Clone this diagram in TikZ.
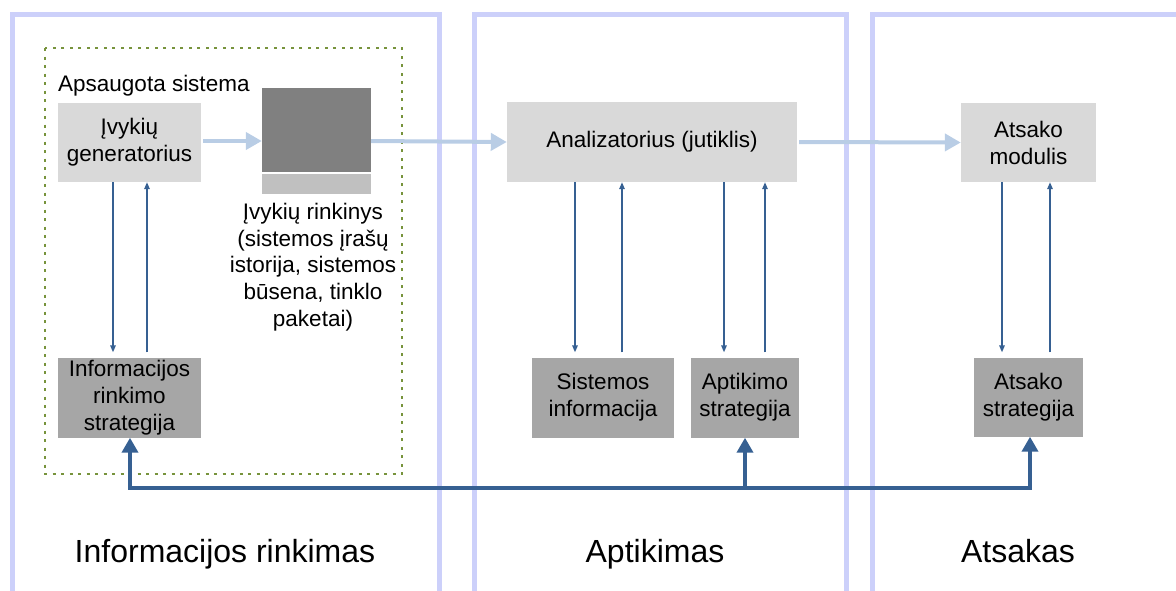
\documentclass[tikz,border=0pt]{standalone}
\usepackage{fontspec}
\setmainfont{Liberation Sans}
\usetikzlibrary{arrows.meta}

\definecolor{panelc}{RGB}{204,208,250}
\definecolor{boxlight}{RGB}{217,217,217}
\definecolor{boxmid}{RGB}{166,166,166}
\definecolor{boxdark}{RGB}{128,128,128}
\definecolor{boxstrip}{RGB}{192,192,192}
\definecolor{flowc}{RGB}{185,205,229}
\definecolor{linkc}{RGB}{54,96,146}
\definecolor{dotc}{RGB}{119,147,60}

\tikzset{
  panel/.style={draw=panelc, line width=5pt},
  sysframe/.style={draw=dotc, line width=2.2pt, dash pattern=on 3pt off 5.5pt},
  box/.style={inner sep=0pt, align=center, font=\fontsize{22.5}{27}\selectfont},
  lightbox/.style={box, fill=boxlight},
  midbox/.style={box, fill=boxmid},
  txt/.style={inner sep=0pt, align=center, font=\fontsize{22.5}{26.7}\selectfont},
  title/.style={inner sep=0pt, font=\fontsize{32}{38}\selectfont},
  flowarr/.style={draw=flowc, line width=4pt, -{Triangle[length=16pt,width=17pt]}},
  thinarr/.style={draw=linkc, line width=1.5pt, -{Triangle[length=7pt,width=5.5pt]}},
  busline/.style={draw=linkc, line width=4pt,
    {Triangle[length=15pt,width=16pt]}-{Triangle[length=15pt,width=16pt]}},
  busarr/.style={draw=linkc, line width=4pt, -{Triangle[length=15pt,width=16pt]}},
}

\begin{document}
\begin{tikzpicture}[x=1pt, y=-1pt]
\useasboundingbox (0,0) rectangle (1176,590);

% the three stage frames, open at the bottom
\begin{scope}
  \clip (0,0) rectangle (1176,590);
  \draw[panel] (12.5,600) -- (12.5,14.5) -- (439,14.5) -- (439,600);
  \draw[panel] (474,600) -- (474,14.5) -- (846.5,14.5) -- (846.5,600);
  \draw[panel] (872,600) -- (872,14.5) -- (1200,14.5);
\end{scope}

% protected system frame
\draw[sysframe] (45,48) rectangle (402,474);
\node[txt, anchor=base west] (sys) at (58,91) {Apsaugota sistema};

% boxes
\node[lightbox, minimum width=143pt, minimum height=79pt] (gen) at (129.5,142.5) {Įvykių\\generatorius};
\node[box, fill=boxdark, minimum width=109pt, minimum height=84pt] (set) at (316.5,130) {};
\node[box, fill=boxstrip, minimum width=109pt, minimum height=20pt] (strip) at (316.5,184) {};
\node[txt, anchor=north] (setlbl) at (313,203) {Įvykių rinkinys\\(sistemos įrašų\\istorija, sistemos\\būsena, tinklo\\paketai)};
\node[lightbox, minimum width=290pt, minimum height=80pt] (an) at (652,142) {Analizatorius (jutiklis)};
\node[lightbox, minimum width=135pt, minimum height=79pt] (am) at (1028.5,142.5) {Atsako\\modulis};

\node[midbox, minimum width=143pt, minimum height=80pt] (irs) at (129.5,397.5) {Informacijos\\rinkimo\\strategija};
\node[midbox, minimum width=142pt, minimum height=80pt] (si) at (603,397.5) {Sistemos\\informacija};
\node[midbox, minimum width=108pt, minimum height=80pt] (aps) at (745,397.5) {Aptikimo\\strategija};
\node[midbox, minimum width=109pt, minimum height=79pt] (ast) at (1028.5,397) {Atsako\\strategija};

% main data flow
\draw[flowarr] ([xshift=2pt]gen.east |- 0,141) -- (set.west |- 0,141);
\draw[flowarr] (set.east |- 0,141) -- (an.west);
\draw[flowarr] ([xshift=2pt]an.east) -- (am.west);

% request / reply links
\draw[thinarr] (gen.south -| 113,0) -- ([yshift=5pt]irs.north -| 113,0);
\draw[thinarr] ([yshift=5pt]irs.north -| 147,0) -- (gen.south -| 147,0);
\draw[thinarr] (an.south -| 575,0) -- ([yshift=5pt]si.north -| 575,0);
\draw[thinarr] ([yshift=5pt]si.north -| 622,0) -- (an.south -| 622,0);
\draw[thinarr] (an.south -| 724,0) -- ([yshift=5pt]aps.north -| 724,0);
\draw[thinarr] ([yshift=5pt]aps.north -| 765,0) -- (an.south -| 765,0);
\draw[thinarr] (am.south -| 1002,0) -- ([yshift=5pt]ast.north -| 1002,0);
\draw[thinarr] ([yshift=5pt]ast.north -| 1050,0) -- (am.south -| 1050,0);

% strategy bus
\coordinate (busL) at (130,488);
\coordinate (busR) at (1030,488);
\coordinate (busM) at (745,488);
\draw[busline] (irs.south -| busL) -- (busL) -- (busR) -- (ast.south -| busR);
\draw[busarr] (busM) -- (aps.south);

% stage titles
\node[title, anchor=base] (t1) at (225,562) {Informacijos rinkimas};
\node[title, anchor=base] (t2) at (655,562) {Aptikimas};
\node[title, anchor=base] (t3) at (1018,562) {Atsakas};
\end{tikzpicture}
\end{document}
